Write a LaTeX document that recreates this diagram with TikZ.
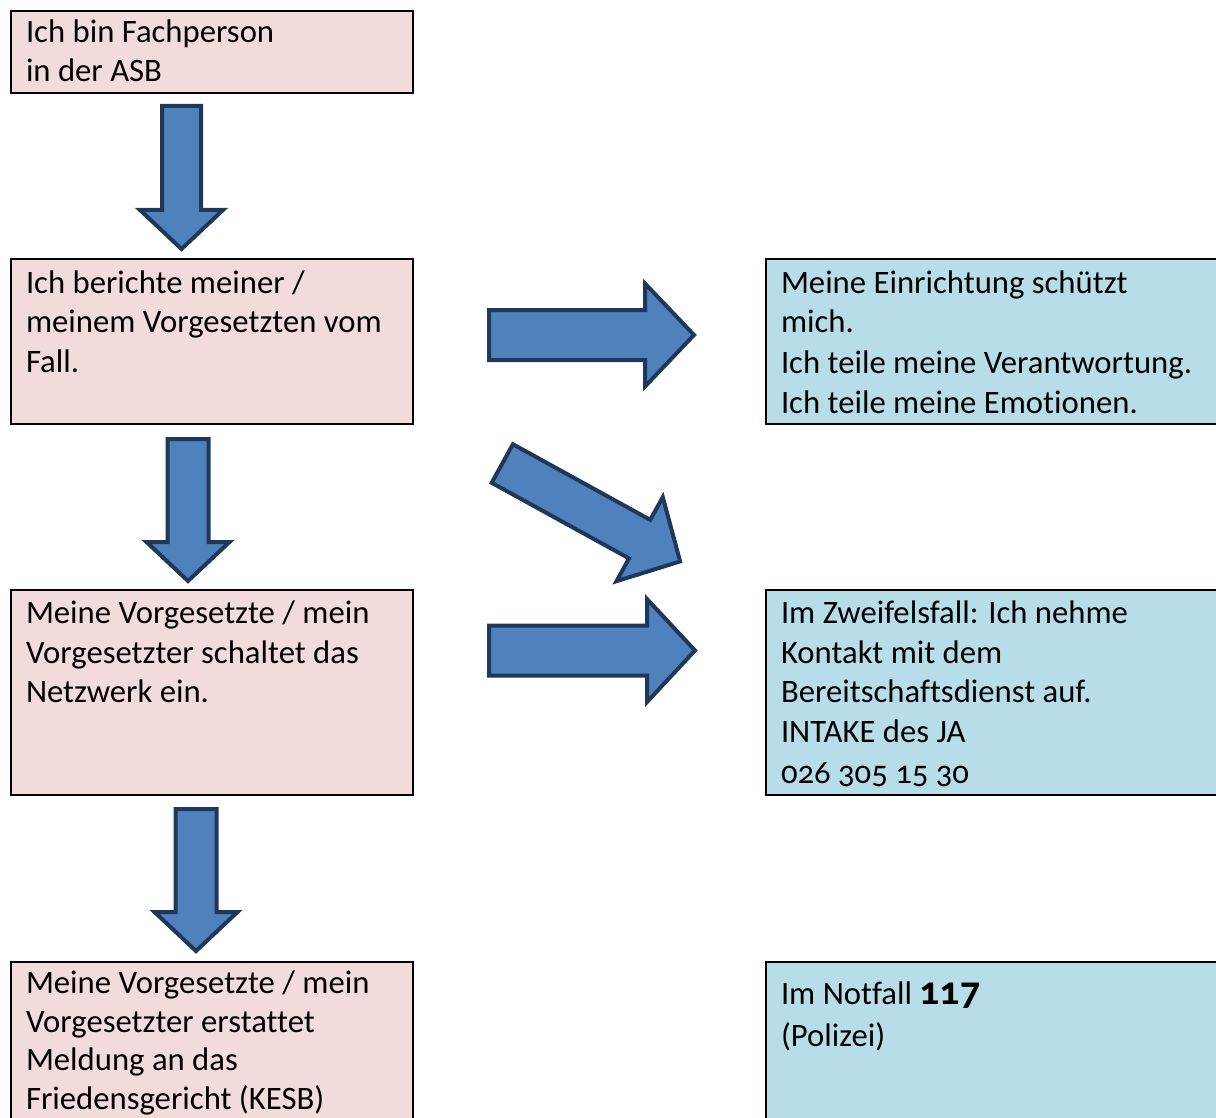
\documentclass[tikz,border=0pt]{standalone}
\usepackage{fontspec}
\setmainfont{Carlito}[Numbers=OldStyle, RawFeature=-liga]
\definecolor{pinkfill}{HTML}{F2DCDB}
\definecolor{bluefill}{HTML}{B7DDE8}
\definecolor{arrowfill}{HTML}{4F81BD}
\definecolor{arrowline}{RGB}{31,55,88}
\tikzset{
  box/.style={draw=black, line width=2pt, anchor=north west, inner sep=0pt, outer sep=0pt},
  pinkbox/.style={box, fill=pinkfill},
  bluebox/.style={box, fill=bluefill},
  txt/.style={anchor=base west, inner sep=0pt, outer sep=0pt},
  arrowshape/.style={fill=arrowfill, draw=arrowline, line width=4pt, line join=miter},
  pics/blockarrow/.style args={#1/#2/#3/#4}{code={
    \draw[arrowshape] (0,-#2) -- (#3,-#2) -- (#3,-#4) -- (#1,0) -- (#3,#4) -- (#3,#2) -- (0,#2) -- cycle;}}
}
\newcommand{\boxtext}[2][39.5]{\parbox[t]{440pt}{\fontsize{32.7}{#1}\selectfont #2}}
\begin{document}
\begin{tikzpicture}[x=1pt,y=-1pt]
\useasboundingbox (0,0) rectangle (1216,1118);
\clip (0,0) rectangle (1216,1118);
% boxes
\node[pinkbox, minimum width=402pt, minimum height=82pt] (b1) at (11,11) {};
\node[pinkbox, minimum width=402pt, minimum height=165pt] (b2) at (11,259) {};
\node[pinkbox, minimum width=402pt, minimum height=205pt] (b3) at (11,590) {};
\node[pinkbox, minimum width=402pt, minimum height=200pt] (b4) at (11,962) {};
\node[bluebox, minimum width=500pt, minimum height=165pt] (r1) at (766,259) {};
\node[bluebox, minimum width=500pt, minimum height=205pt] (r2) at (766,590) {};
\node[bluebox, minimum width=500pt, minimum height=200pt] (r3) at (766,962) {};
% texts
\node[txt] (t1) at (26,42.5) {\boxtext{Ich bin Fachperson\\in der ASB}};
\node[txt] (t2) at (26,293.5) {\boxtext{Ich berichte meiner /\\meinem Vorgesetzten vom\\Fall.}};
\node[txt] (t3) at (26,623.5) {\boxtext{Meine Vorgesetzte / mein\\Vorgesetzter schaltet das\\Netzwerk ein.}};
\node[txt] (t4) at (26,993.5) {\boxtext[38.7]{Meine Vorgesetzte / mein\\Vorgesetzter erstattet\\Meldung an das\\Friedensgericht (KESB)}};
\node[txt] (s1) at (781,293.5) {\boxtext{Meine Einrichtung schützt\\mich.\\[1.5pt]Ich teile meine Verantwortung.\\Ich teile meine Emotionen.}};
\node[txt] (s2) at (781,623.5) {\boxtext{Im Zweifelsfall: Ich nehme\\Kontakt mit dem\\Bereitschaftsdienst auf.\\INTAKE des JA\\[1.5pt]026 305 15 30}};
\node[txt] (s3) at (781,1004) {\boxtext{Im Notfall {\fontsize{40}{40}\selectfont\bfseries 117}\\[3pt](Polizei)}};
% arrows
\pic[rotate=-90] (a1) at (181.5,106) {blockarrow={143/19.5/104/41.5}};
\pic[rotate=-90] (a2) at (188,439) {blockarrow={142/20.5/103/41.5}};
\pic[rotate=-90] (a3) at (196,809) {blockarrow={142/20.5/103/41.5}};
\pic (a4) at (489,335) {blockarrow={205/25/156/51.5}};
\pic[rotate=-28.84] (a5) at (502.3,463.5) {blockarrow={203/22/156.8/48}};
\pic (a6) at (489,650.5) {blockarrow={206/25/158/51.5}};
\end{tikzpicture}
\end{document}
